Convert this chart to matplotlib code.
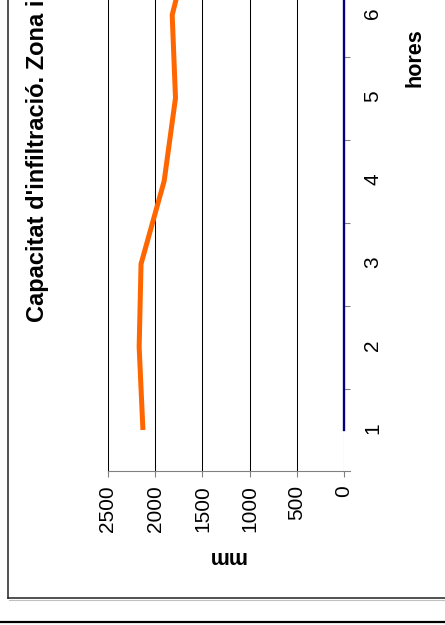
import matplotlib
matplotlib.use("Agg")
import matplotlib.pyplot as plt
from matplotlib.lines import Line2D
import numpy as np

plt.rcParams["font.family"] = ["Liberation Sans", "DejaVu Sans"]

# Infiltration capacity by hour
hours = [1, 2, 3, 4, 5, 6, 7]
infiltration_mm = [2130, 2170, 2150, 1905, 1785, 1820, 1600]
value_ticks = [0, 500, 1000, 1500, 2000, 2500]
hour_labels = ["1", "2", "3", "4", "5", "6"]

title = "Capacitat d'infiltració. Zona inundable"
x_title = "hores"
y_title = "mm"

W, H = 445, 625
fig = plt.figure(figsize=(W / 100, H / 100), dpi=100)
fig.patch.set_facecolor("white")


def fx(px):
    return px / W


def fy(py):
    return 1 - py / H


# page is turned a quarter: values run right-to-left, hours run upward
ax = fig.add_axes([fx(108), fy(471), fx(344) - fx(108), (471 + 100) / H])
ax.set_xlim(2500, 0)
ax.set_ylim(0.506, 7.386)

ax.plot(infiltration_mm, hours, color="#FF6600", lw=3.6,
        solid_capstyle="butt", solid_joinstyle="miter", zorder=3)

# value axis (bottom)
ax.set_xticks(value_ticks)
ax.set_xticklabels([str(v) for v in value_ticks])
ax.xaxis.grid(True, color="black", lw=0.75)
ax.yaxis.grid(False)
ax.tick_params(axis="x", which="major", length=4.3, width=0.8, color="#808080",
               direction="out", labelsize=15, labelrotation=90, pad=6)

# category axis (right)
ax.yaxis.tick_right()
ax.set_yticks(hours[:len(hour_labels)])
ax.set_yticklabels(hour_labels)
ax.set_yticks(np.array(hours[:-1]) + 0.5, minor=True)
ax.tick_params(axis="y", which="major", length=0, labelsize=15,
               labelrotation=90, pad=14)
ax.tick_params(axis="y", which="minor", length=4.3, width=0.8,
               color="#808080", direction="out")

for side in ("top", "left"):
    ax.spines[side].set_visible(False)
ax.spines["bottom"].set_color("#808080")
ax.spines["bottom"].set_linewidth(0.8)
ax.spines["bottom"].set_bounds(2500, -63)
ax.spines["right"].set_color("#000080")
ax.spines["right"].set_linewidth(1.7)
ax.spines["right"].set_bounds(1, 7.386)
ax.spines["right"].set_zorder(4)

# titles
fig.text(fx(44), fy(322), title, rotation=90, rotation_mode="anchor",
         ha="left", va="baseline", fontsize=17, fontweight="bold")
fig.text(fx(421), fy(58), x_title, rotation=90, rotation_mode="anchor",
         ha="center", va="baseline", fontsize=15.5, fontweight="bold")
fig.text(fx(226), fy(551), y_title, rotation=180, rotation_mode="anchor",
         ha="center", va="baseline", fontsize=15.5, fontweight="bold")

# chart frame and page rule
fig.add_artist(Line2D([fx(8), fx(8)], [fy(0), fy(598)], color="#222222",
                      lw=1.1, transform=fig.transFigure))
fig.add_artist(Line2D([fx(8), fx(445)], [fy(598), fy(598)], color="#222222",
                      lw=1.1, transform=fig.transFigure))
fig.add_artist(Line2D([fx(9), fx(445)], [fy(600), fy(600)], color="#c0c0c0",
                      lw=0.8, transform=fig.transFigure))
fig.add_artist(Line2D([fx(0), fx(445)], [fy(622), fy(622)], color="black",
                      lw=1.6, transform=fig.transFigure))

fig.savefig("out.png", dpi=100)
